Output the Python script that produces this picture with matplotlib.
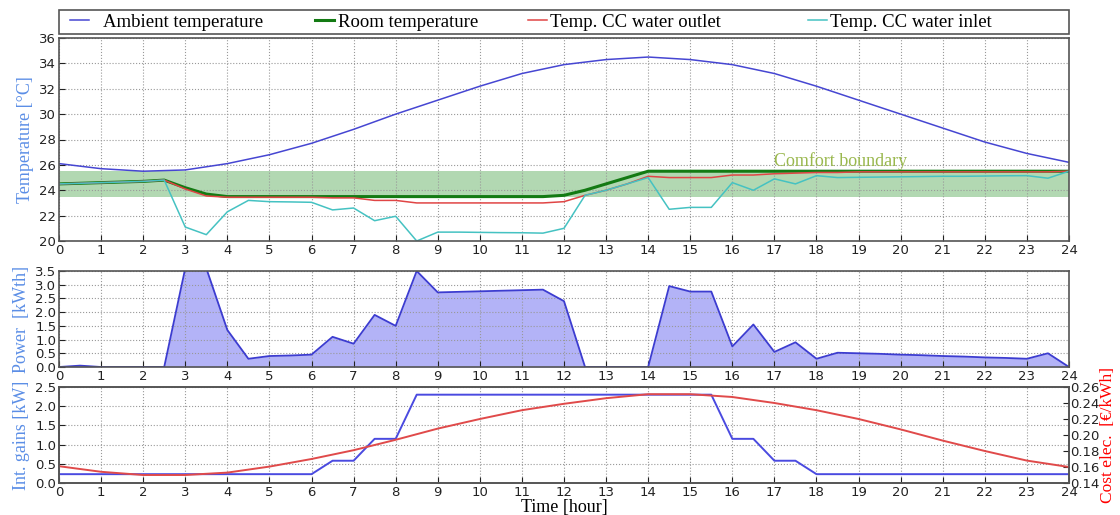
import matplotlib
matplotlib.use("Agg")
import matplotlib.pyplot as plt
from matplotlib.patches import Rectangle
import numpy as np

# ---------------- data ----------------
hours = list(range(25))
ambient_temp = [26.1, 25.7, 25.5, 25.6, 26.1, 26.8, 27.7, 28.8, 30.0, 31.1, 32.2, 33.2,
                33.9, 34.3, 34.5, 34.3, 33.9, 33.2, 32.2, 31.1, 30.0, 28.9, 27.8, 26.9, 26.2]

half_hours = [i * 0.5 for i in range(49)]
room_temp = [24.5, 24.55, 24.6, 24.65, 24.7, 24.8, 24.2, 23.7, 23.5, 23.5, 23.5, 23.5,
             23.5, 23.5, 23.5, 23.5, 23.5, 23.5, 23.5, 23.5, 23.5, 23.5, 23.5, 23.5,
             23.6, 24.0, 24.5, 25.0, 25.5, 25.5, 25.5, 25.5, 25.5, 25.5, 25.5, 25.5,
             25.5, 25.5, 25.5, 25.5, 25.5, 25.5, 25.5, 25.5, 25.5, 25.5, 25.5, 25.5, 25.5]
outlet_temp = [24.5, 24.55, 24.6, 24.65, 24.7, 24.8, 24.1, 23.55, 23.45, 23.45, 23.45, 23.45,
               23.45, 23.4, 23.4, 23.2, 23.2, 23.0, 23.0, 23.0, 23.0, 23.0, 23.0, 23.0,
               23.1, 23.6, 24.0, 24.5, 25.1, 25.0, 25.0, 25.0, 25.2, 25.2, 25.3, 25.35,
               25.4, 25.4, 25.45, 25.45, 25.45, 25.45, 25.45, 25.45, 25.45, 25.45, 25.45, 25.45, 25.5]
inlet_temp = [24.5, 24.55, 24.6, 24.65, 24.7, 24.8, 21.1, 20.5, 22.3, 23.2, 23.1, 23.08,
              23.05, 22.45, 22.6, 21.6, 21.95, 20.0, 20.7, 20.7, 20.68, 20.66, 20.65, 20.62,
              21.0, 23.6, 24.0, 24.5, 25.0, 22.5, 22.65, 22.65, 24.6, 24.0, 24.9, 24.5,
              25.15, 25.0, 25.02, 25.04, 25.06, 25.08, 25.1, 25.1, 25.12, 25.14, 25.15, 24.95, 25.5]

power = [0.0, 0.05, 0.0, 0.0, 0.0, 0.0, 3.6, 3.6, 1.35, 0.3, 0.4, 0.42,
         0.45, 1.1, 0.85, 1.9, 1.5, 3.5, 2.72, 2.74, 2.76, 2.78, 2.8, 2.82,
         2.4, 0.0, 0.0, 0.0, 0.0, 2.95, 2.75, 2.75, 0.75, 1.55, 0.55, 0.9,
         0.3, 0.52, 0.5, 0.48, 0.45, 0.43, 0.4, 0.38, 0.35, 0.33, 0.3, 0.5, 0.0]

int_gains = [0.23] * 13 + [0.58, 0.58, 1.15, 1.15, 2.3] + [2.3] * 14 + \
            [1.15, 1.15, 0.58, 0.58, 0.23] + [0.23] * 12

cost_elec = [0.161, 0.154, 0.150, 0.150, 0.153, 0.1605, 0.170, 0.181, 0.194, 0.208, 0.220, 0.231,
             0.239, 0.246, 0.251, 0.251, 0.2475, 0.240, 0.231, 0.220, 0.207, 0.193, 0.180, 0.168, 0.160]

comfort_low, comfort_high = 23.5, 25.5

# ---------------- style ----------------
W, H = 1120, 515
fig = plt.figure(figsize=(W / 100, H / 100), dpi=100)
serif = ['Liberation Serif', 'DejaVu Serif']
label_blue = '#5b8ee6'
spine_col = '#555555'

L, R = 59 / W, 1069 / W
def box(top, bottom):
    return [L, 1 - bottom / H, R - L, (bottom - top) / H]

ax1 = fig.add_axes(box(38, 241))
ax2 = fig.add_axes(box(271, 367))
ax3 = fig.add_axes(box(387, 483))

for ax in (ax1, ax2, ax3):
    ax.set_xlim(0, 24)
    ax.set_xticks(range(25))
    ax.grid(True, linestyle=':', color='#999999', linewidth=0.8)
    ax.tick_params(direction='in', labelsize=9.5, length=4, colors='#222222', pad=2)
    for s in ax.spines.values():
        s.set_color(spine_col)
        s.set_linewidth(1.2)

# top panel
ax1.axhspan(comfort_low, comfort_high, color='green', alpha=0.3, lw=0)
l1, = ax1.plot(hours, ambient_temp, color='#4646d2', lw=1.1, label='Ambient temperature')
l2, = ax1.plot(half_hours, room_temp, color='#137a13', lw=2.2, label='Room temperature')
l3, = ax1.plot(half_hours, outlet_temp, color='#e04545', lw=1.1, label='Temp. CC water outlet')
l4, = ax1.plot(half_hours, inlet_temp, color='#45c2c2', lw=1.1, label='Temp. CC water inlet')
ax1.set_ylim(20, 36)
ax1.set_yticks(range(20, 37, 2))
ax1.set_ylabel('Temperature [°C]', family=serif, fontsize=13, color=label_blue, labelpad=4)
ax1.text(17.0, 25.6, 'Comfort boundary', family=serif, fontsize=13, color='#9ab84e', va='bottom')

# legend frame spanning the axes width
fig.patches.append(Rectangle((L, 1 - 34 / H), R - L, 24 / H, transform=fig.transFigure,
                             fill=False, edgecolor=spine_col, lw=1.2, figure=fig))
legend_x = [70, 315, 528, 808]
legend_pad = [0.75, 0.2, 0.15, 0.15]
for handle, px, pad in zip([l1, l2, l3, l4], legend_x, legend_pad):
    fig.legend(handles=[handle], loc='center left',
               bbox_to_anchor=(px / W, 1 - 22 / H), bbox_transform=fig.transFigure,
               prop={'family': serif, 'size': 13.5}, frameon=False,
               handlelength=1.0, handletextpad=pad, borderaxespad=0, borderpad=0)

# middle panel
ax2.fill_between(half_hours, 0, power, color='#b3b3f7', lw=0)
ax2.plot(half_hours, power, color='#3c3cd0', lw=1.3)
ax2.set_ylim(0, 3.5)
ax2.set_yticks(np.arange(0, 3.51, 0.5))
ax2.set_ylabel('Power  [kWth]', family=serif, fontsize=13, color=label_blue, labelpad=4)

# bottom panel
ax3.plot(half_hours, int_gains, color='#4a4ae0', lw=1.4)
ax3.set_ylim(0, 2.5)
ax3.set_yticks(np.arange(0, 2.51, 0.5))
ax3.set_ylabel('Int. gains [kW]', family=serif, fontsize=13, color=label_blue, labelpad=4)
ax3.set_xlabel('Time [hour]', family=serif, fontsize=13, labelpad=0)

ax4 = ax3.twinx()
ax4.plot(hours, cost_elec, color='#e04a4a', lw=1.4)
ax4.set_ylim(0.14, 0.26)
ax4.set_yticks(np.arange(0.14, 0.261, 0.02))
ax4.tick_params(direction='in', labelsize=9.5, length=4, colors='#222222', pad=1)
ax4.set_ylabel('Cost elec.  [€/kWh]', family=serif, fontsize=12.5, color='red', labelpad=0)
for s in ax4.spines.values():
    s.set_color(spine_col)
    s.set_linewidth(1.2)

fig.savefig('out.png', dpi=100)
